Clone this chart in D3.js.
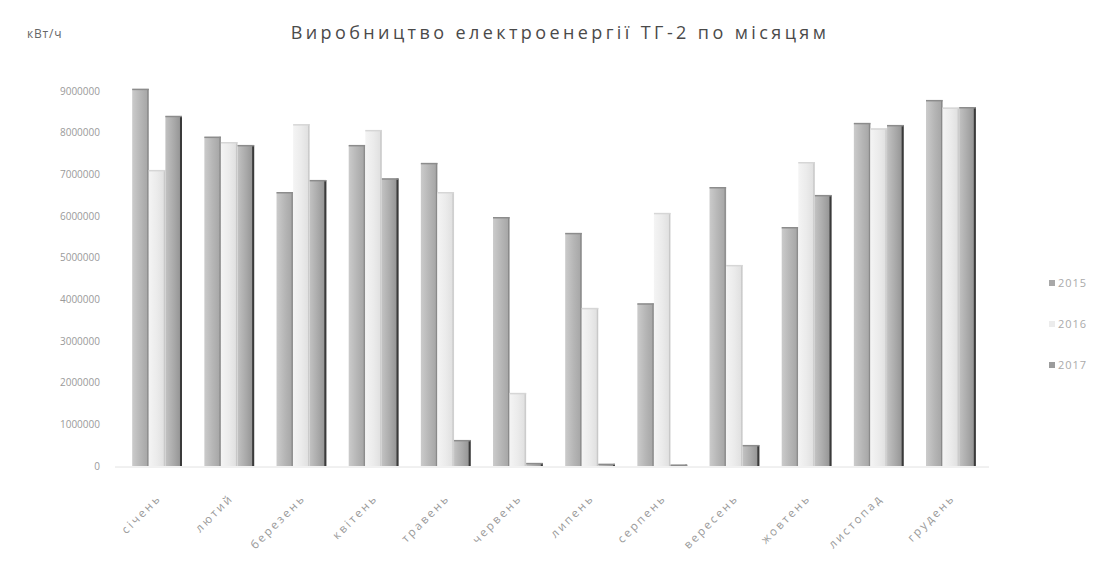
<!DOCTYPE html>
<html>
<head>
<meta charset="utf-8">
<script src="https://cdn.jsdelivr.net/npm/d3@7/dist/d3.min.js"></script>
<style>
  html, body { margin: 0; padding: 0; background: #fff; }
  svg { display: block; font-family: "Open Sans", "DejaVu Sans", sans-serif; }
</style>
</head>
<body>
<svg id="chart" width="1118" height="561"></svg>
<script>
// Monthly electricity output of turbine generator TG-2, kWh
const months = ["січень", "лютий", "березень", "квітень", "травень", "червень",
                "липень", "серпень", "вересень", "жовтень", "листопад", "грудень"];
const years = ["2015", "2016", "2017"];
const values2015 = [9050000, 7900000, 6570000, 7700000, 7270000, 5970000,
                    5590000, 3900000, 6690000, 5730000, 8230000, 8780000];
const values2016 = [7100000, 7770000, 8200000, 8060000, 6570000, 1750000,
                    3790000, 6070000, 4820000, 7290000, 8100000, 8600000];
const values2017 = [8400000, 7700000, 6860000, 6900000, 620000, 70000,
                    50000, 30000, 500000, 6500000, 8180000, 8610000];
const yTicks = [0, 1000000, 2000000, 3000000, 4000000, 5000000,
                6000000, 7000000, 8000000, 9000000];

const series = [values2015, values2016, values2017];

const svg = d3.select("#chart");
const plot = { left: 121, right: 987, top: 91, bottom: 466 };

const x = d3.scaleBand().domain(months)
  .range([plot.left, plot.right]).paddingInner(0.31).paddingOuter(0.155);
const xi = d3.scaleBand().domain(years).range([0, x.bandwidth()]).padding(0);
const y = d3.scaleLinear().domain([0, 9000000]).range([plot.bottom, plot.top]);

// bar shading gradients
const defs = svg.append("defs");
const shades = [
  { id: "g2015", stops: ["#cbcbcb", "#b6b6b6", "#a4a4a4"] },
  { id: "g2016", stops: ["#f4f4f4", "#ebebeb", "#dedede"] },
  { id: "g2017", stops: ["#c2c2c2", "#aaaaaa", "#909090"] }
];
shades.forEach(s => {
  const g = defs.append("linearGradient").attr("id", s.id)
    .attr("x1", "0%").attr("x2", "100%").attr("y1", "0%").attr("y2", "0%");
  s.stops.forEach((c, i) => g.append("stop")
    .attr("offset", (i * 50) + "%").attr("stop-color", c));
});

// title and unit
svg.append("text")
  .attr("x", 560).attr("y", 39)
  .attr("text-anchor", "middle")
  .attr("fill", "#4a4a4a").attr("font-size", 18).attr("letter-spacing", 3.4)
  .text("Виробництво електроенергії ТГ-2 по місяцям");
svg.append("text")
  .attr("x", 27).attr("y", 38)
  .attr("fill", "#666").attr("font-size", 12).attr("letter-spacing", 0.8)
  .text("кВт/ч");

// y axis labels
const yAxis = d3.axisLeft(y).tickValues(yTicks).tickSize(0).tickPadding(0)
  .tickFormat(d3.format("d"));
const yg = svg.append("g").attr("transform", `translate(100,0)`).call(yAxis);
yg.select(".domain").remove();
yg.selectAll("text").attr("fill", "#9a9a9a").attr("font-size", 10)
  .attr("font-family", "'Open Sans', sans-serif");

// baseline
svg.append("line")
  .attr("x1", plot.left - 6).attr("x2", plot.right + 2)
  .attr("y1", plot.bottom + 1).attr("y2", plot.bottom + 1)
  .attr("stroke", "#e2e2e2").attr("stroke-width", 1);

// bars
const groups = svg.append("g").selectAll("g")
  .data(months).join("g")
  .attr("transform", d => `translate(${x(d)},0)`);

years.forEach((yr, si) => {
  groups.append("rect")
    .attr("x", xi(yr))
    .attr("y", (d, i) => y(series[si][i]))
    .attr("width", xi.bandwidth())
    .attr("height", (d, i) => y(0) - y(series[si][i]))
    .attr("fill", `url(#g${yr})`);
  // darker right edge of each column
  groups.append("line")
    .attr("x1", xi(yr) + xi.bandwidth() - 1).attr("x2", xi(yr) + xi.bandwidth() - 1)
    .attr("y1", (d, i) => y(series[si][i]))
    .attr("y2", y(0))
    .attr("stroke", si === 2 ? "#3a3a3a" : (si === 0 ? "#8a8a8a" : "#c8c8c8"))
    .attr("stroke-width", si === 2 ? 2 : 1.2);
  // top cap
  groups.append("line")
    .attr("x1", xi(yr)).attr("x2", xi(yr) + xi.bandwidth())
    .attr("y1", (d, i) => y(series[si][i]) + 0.5)
    .attr("y2", (d, i) => y(series[si][i]) + 0.5)
    .attr("stroke", si === 1 ? "#d6d6d6" : "#8c8c8c")
    .attr("stroke-width", 1.5);
});

// month labels
const xAxis = d3.axisBottom(x).tickSize(0).tickPadding(0);
const xg = svg.append("g").attr("transform", `translate(0,${plot.bottom + 30})`).call(xAxis);
xg.select(".domain").remove();
xg.selectAll("text")
  .attr("fill", "#9a9a9a").attr("font-size", 11.5)
  .attr("letter-spacing", 2.4)
  .attr("font-family", "'Open Sans', sans-serif")
  .attr("text-anchor", "end")
  .attr("dy", "0.35em")
  .attr("transform", "translate(2,0) rotate(-45)");

// legend
const legendFill = ["#a8a8a8", "#ececec", "#9c9c9c"];
const lg = svg.append("g").selectAll("g").data(years).join("g")
  .attr("transform", (d, i) => `translate(1049,${283 + i * 41})`);
lg.append("rect").attr("x", 0).attr("y", -3).attr("width", 6).attr("height", 6)
  .attr("fill", (d, i) => legendFill[i]);
lg.append("text").attr("x", 9).attr("y", 0).attr("dy", "0.35em")
  .attr("fill", "#aaa").attr("font-size", 11).attr("letter-spacing", 1)
  .text(d => d);
</script>
</body>
</html>
